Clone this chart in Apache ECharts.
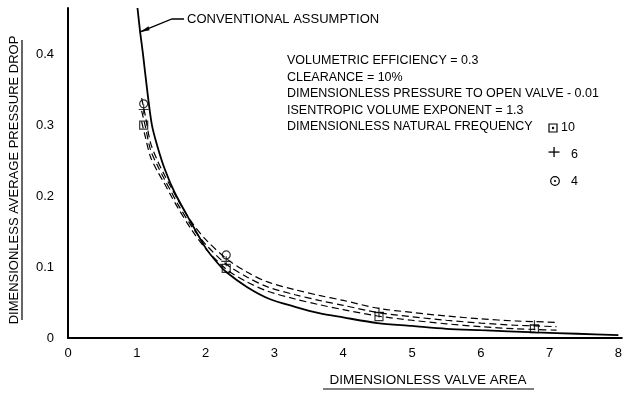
<!DOCTYPE html>
<html><head><meta charset="utf-8">
<script src="https://cdn.jsdelivr.net/npm/echarts@6/dist/echarts.min.js"></script>
<style>html,body{margin:0;padding:0;background:#fff}#c{width:625px;height:398px}</style>
</head><body><div id="c"></div>
<script>
// ---- data ----
const xTickLabels = ['0','1','2','3','4','5','6','7','8'];
const yTickLabels = ['0','0.1','0.2','0.3','0.4'];

const convX = [1.01,1.05,1.09,1.15,1.22,1.30,1.41,1.55,1.77,2.00,2.17,2.30,2.60,2.93,3.30,3.65,4.00,4.50,5.00,5.50,6.00,6.80,7.40,8.00];
const convY = [0.465,0.43,0.40,0.35,0.30,0.27,0.237,0.205,0.166,0.127,0.106,0.093,0.072,0.055,0.044,0.035,0.029,0.021,0.017,0.013,0.011,0.008,0.006,0.004];

const dashX = [1.07,1.12,1.20,1.30,1.40,1.50,1.60,1.80,2.00,2.30,2.60,2.90,3.30,3.65,4.00,4.50,5.00,5.50,6.00,6.50,6.80,7.10];
const freq10Y = [0.305,0.285,0.255,0.235,0.218,0.200,0.183,0.152,0.126,0.097,0.079,0.066,0.055,0.047,0.040,0.031,0.025,0.020,0.016,0.013,0.012,0.011];
const freq6Y  = [0.320,0.300,0.265,0.243,0.224,0.206,0.188,0.157,0.132,0.104,0.086,0.072,0.061,0.053,0.046,0.036,0.030,0.025,0.021,0.018,0.017,0.016];
const freq4Y  = [0.338,0.315,0.275,0.250,0.230,0.212,0.194,0.163,0.139,0.112,0.093,0.079,0.068,0.060,0.053,0.042,0.036,0.031,0.027,0.024,0.023,0.022];

const sqX = [1.10,2.30,4.52,6.78],  sqY = [0.300,0.098,0.030,0.013];
const plusX = [1.10,2.30,4.52,6.78], plusY = [0.322,0.108,0.036,0.018];
const circX = [1.10,2.30], circY = [0.330,0.117];

const noteLines = [
  'VOLUMETRIC EFFICIENCY = 0.3',
  'CLEARANCE = 10%',
  'DIMENSIONLESS PRESSURE TO OPEN VALVE - 0.01',
  'ISENTROPIC VOLUME EXPONENT = 1.3',
  'DIMENSIONLESS NATURAL FREQUENCY'
];
const freqLabels = ['10','6','4'];
const convLabel = 'CONVENTIONAL ASSUMPTION';
const xName = 'DIMENSIONLESS VALVE AREA';
const yName = 'DIMENSIONLESS AVERAGE PRESSURE DROP';

// ---- chart ----
const FONT = '"Liberation Sans Narrow","Liberation Sans","DejaVu Sans Condensed",sans-serif';
const zip = (xs, ys) => xs.map((x, i) => [x, ys[i]]);
const dashStyle = { color: '#000', width: 1.2, type: [7, 4] };

const chart = echarts.init(document.getElementById('c'), null, { renderer: 'canvas' });
const option = {
  animation: false,
  backgroundColor: '#fff',
  grid: { left: 68, right: 2, top: 8, bottom: 60, containLabel: false },
  xAxis: {
    type: 'value', min: 0, max: 8.05, interval: 1,
    axisLine: { show: true, lineStyle: { color: '#000', width: 2 } },
    axisTick: { show: false },
    splitLine: { show: false },
    axisLabel: {
      color: '#000', fontFamily: FONT, fontSize: 13, margin: 9,
      formatter: v => (Number.isInteger(v) && v < xTickLabels.length) ? xTickLabels[v] : ''
    }
  },
  yAxis: {
    type: 'value', min: 0, max: 0.465, interval: 0.1,
    axisLine: { show: true, lineStyle: { color: '#000', width: 2 } },
    axisTick: { show: false },
    splitLine: { show: false },
    axisLabel: {
      color: '#000', fontFamily: FONT, fontSize: 13, margin: 14,
      formatter: v => { const i = Math.round(v * 10); return (Math.abs(v * 10 - i) < 1e-6 && i < yTickLabels.length) ? yTickLabels[i] : ''; }
    }
  },
  series: [
    { type: 'line', data: zip(convX, convY), smooth: 0.3, symbol: 'none', lineStyle: { color: '#000', width: 1.8 } },
    { type: 'line', data: zip(dashX, freq10Y), smooth: 0.3, symbol: 'none', lineStyle: dashStyle },
    { type: 'line', data: zip(dashX, freq6Y), smooth: 0.3, symbol: 'none', lineStyle: dashStyle },
    { type: 'line', data: zip(dashX, freq4Y), smooth: 0.3, symbol: 'none', lineStyle: dashStyle },
    { type: 'scatter', data: zip(sqX, sqY), symbol: 'rect', symbolSize: 8, z: 5,
      itemStyle: { color: 'rgba(255,255,255,0)', borderColor: '#000', borderWidth: 1.2 } },
    { type: 'scatter', data: zip(plusX, plusY), z: 5, symbolSize: 10,
      symbol: 'path://M0,4.4H10V5.6H0Z M4.4,0H5.6V10H4.4Z', itemStyle: { color: '#000' } },
    { type: 'scatter', data: zip(circX, circY), symbol: 'circle', symbolSize: 8, z: 5,
      itemStyle: { color: 'rgba(255,255,255,0)', borderColor: '#000', borderWidth: 1.2 } }
  ]
};
chart.setOption(option);

// ---- annotations ----
const tip = chart.convertToPixel({ gridIndex: 0 }, [1.04, 0.431]);
const g = [];
const F = '12.5px ' + FONT;
const txt = (x, y, s, f) => ({ type: 'text', x, y, style: { text: s, fill: '#000', font: f || F, textVerticalAlign: 'middle' } });
// conventional label + leader
g.push(txt(187, 19, convLabel, '13px ' + FONT));
g.push({ type: 'polyline', shape: { points: [[184, 19], [172, 19], tip] }, style: { stroke: '#000', lineWidth: 1.3, fill: null } });
g.push({ type: 'polygon', shape: { points: [tip, [tip[0] + 9, tip[1] - 6], [tip[0] + 10, tip[1] - 2]] }, style: { fill: '#000' } });
// notes
noteLines.forEach((s, i) => g.push(txt(287, 61 + i * 16.5, s)));
// legend keys
g.push({ type: 'rect', shape: { x: 549, y: 124, width: 8, height: 8 }, style: { fill: null, stroke: '#000', lineWidth: 1.2 } });
g.push({ type: 'circle', shape: { cx: 553, cy: 128, r: 1.2 }, style: { fill: '#000' } });
g.push(txt(561, 128, freqLabels[0]));
g.push({ type: 'rect', shape: { x: 548.5, y: 151.4, width: 11, height: 1.3 }, style: { fill: '#000' } });
g.push({ type: 'rect', shape: { x: 553.4, y: 147, width: 1.3, height: 10 }, style: { fill: '#000' } });
g.push(txt(571, 155, freqLabels[1]));
g.push({ type: 'circle', shape: { cx: 555, cy: 181, r: 4.3 }, style: { fill: null, stroke: '#000', lineWidth: 1.2 } });
g.push({ type: 'circle', shape: { cx: 555, cy: 181, r: 1.1 }, style: { fill: '#000' } });
g.push(txt(571, 182, freqLabels[2]));
// axis titles with underlines
g.push({ type: 'text', x: 428, y: 380, style: { text: xName, fill: '#000', font: '13.5px ' + FONT, textAlign: 'center', textVerticalAlign: 'middle' } });
g.push({ type: 'line', shape: { x1: 323, y1: 389, x2: 534, y2: 389 }, style: { stroke: '#000', lineWidth: 1.2 } });
g.push({ type: 'text', x: 14, y: 180, rotation: Math.PI / 2,
  style: { text: yName, fill: '#000', font: '13px ' + FONT, textAlign: 'center', textVerticalAlign: 'middle' } });
g.push({ type: 'line', shape: { x1: 22, y1: 40, x2: 22, y2: 320 }, style: { stroke: '#000', lineWidth: 1.2 } });
chart.setOption({ graphic: g });
</script>
</body></html>
